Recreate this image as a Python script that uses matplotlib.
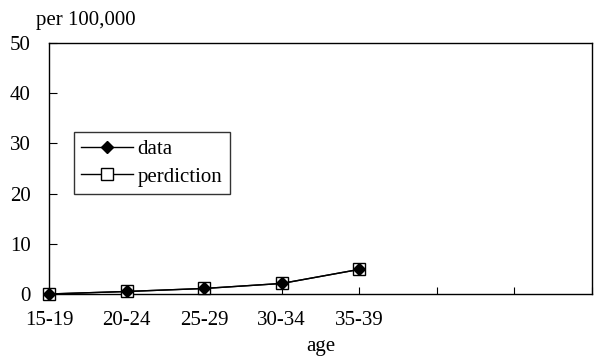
import matplotlib
matplotlib.use("Agg")
import matplotlib.pyplot as plt

plt.rcParams['font.family'] = ['Liberation Serif', 'DejaVu Serif']

# age groups and rates per 100,000
age_groups = ["15-19", "20-24", "25-29", "30-34", "35-39", "", "", ""]
data_rate = [0.0, 0.5, 1.1, 2.1, 4.9]
prediction_rate = [0.0, 0.5, 1.1, 2.1, 4.9]
y_ticks = [0, 10, 20, 30, 40, 50]

FS = 15

fig = plt.figure(figsize=(5.98, 3.59), dpi=100)
ax = fig.add_axes([49 / 598, 1 - 294 / 359, (592 - 49) / 598, (294 - 43) / 359])

x = list(range(len(data_rate)))
ax.plot(x, prediction_rate, color="black", lw=1.0, marker="s", markersize=9,
        markerfacecolor="white", markeredgecolor="black", markeredgewidth=1.0,
        label="perdiction", zorder=3, clip_on=False)
ax.plot(x, data_rate, color="black", lw=1.0, marker="D", markersize=6,
        markerfacecolor="black", markeredgecolor="black", label="data",
        zorder=4, clip_on=False)

ax.set_xlim(0, len(age_groups) - 1)
ax.set_ylim(0, 50)
ax.set_xticks(range(len(age_groups)))
ax.set_xticklabels(age_groups)
ax.set_yticks(y_ticks)

ax.tick_params(axis="x", direction="in", length=5, width=0.8, pad=12, labelsize=FS)
ax.tick_params(axis="y", direction="in", length=6, width=0.8, pad=13, labelsize=FS)
for sp in ax.spines.values():
    sp.set_linewidth(1.0)
    sp.set_color("black")

fig.text(320.5 / 598, 1 - 347 / 359, "age", fontsize=FS, ha="center", va="center")
fig.text(36 / 598, 1 - 20 / 359, "per 100,000", fontsize=FS, ha="left", va="center")

handles, labels = ax.get_legend_handles_labels()
leg = ax.legend(handles[::-1], labels[::-1], loc="upper left",
                bbox_to_anchor=((74 - 49) / 543, (294 - 132) / 251),
                fontsize=FS, frameon=True, fancybox=False, edgecolor="black",
                handlelength=2.5, handletextpad=0.2, labelspacing=0.4,
                borderpad=0.35, borderaxespad=0)
leg.get_frame().set_linewidth(1.0)

fig.savefig("out.png", dpi=100)
